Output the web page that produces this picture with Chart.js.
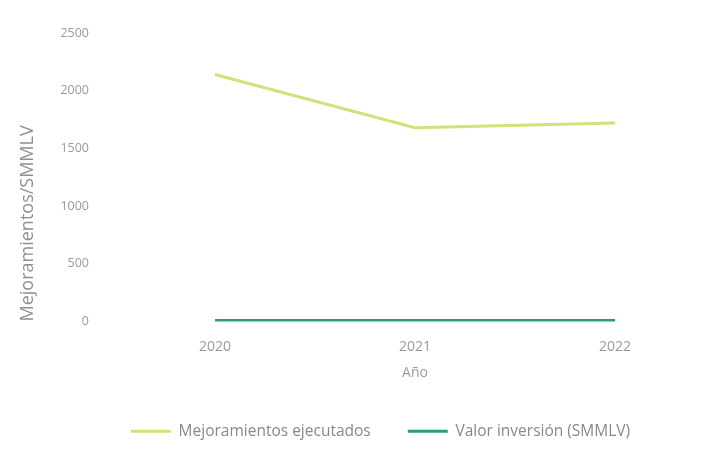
<!DOCTYPE html>
<html>
<head>
<meta charset="utf-8">
<script src="https://cdn.jsdelivr.net/npm/chart.js@4.4.0/dist/chart.umd.min.js"></script>
<style>
  html, body { margin: 0; padding: 0; background: #fff; }
  #graf { display: block; }
</style>
</head>
<body>
<canvas id="graf" width="718" height="451"></canvas>
<script>
var anios = ['2020', '2021', '2022'];
var mejoramientos = [2140, 1680, 1720];
var inversion = [8, 8, 8];
var ticksY = [0, 500, 1000, 1500, 2000, 2500];

var ctx = document.getElementById("graf").getContext("2d");
var graf = new Chart(ctx, {
    type: 'line',
    data: {
        labels: anios,
        datasets: [{
            label: 'Mejoramientos ejecutados',
            data: mejoramientos,
            borderColor: '#d0e27a',
            backgroundColor: '#d0e27a',
            borderWidth: 3,
            pointRadius: 0,
            tension: 0
        }, {
            label: 'Valor inversión (SMMLV)',
            data: inversion,
            borderColor: '#2e9c7c',
            backgroundColor: '#2e9c7c',
            borderWidth: 3,
            pointRadius: 0,
            tension: 0
        }]
    },
    options: {
        responsive: false,
        animation: false,
        // left padding a bit big so the legend sits centred like the original
        layout: { padding: { top: 33, right: 3, left: 46, bottom: 2 } },
        plugins: {
            legend: {
                position: 'bottom',
                labels: {
                    usePointStyle: true,
                    pointStyle: 'line',
                    pointStyleWidth: 40,
                    boxHeight: 3,
                    color: '#888',
                    padding: 37,
                    font: { family: 'Open Sans', size: 15.5 }
                }
            },
            tooltip: { enabled: false }
        },
        scales: {
            x: {
                offset: true,
                grid: { display: false },
                border: { display: false },
                ticks: { color: '#999', font: { family: 'Open Sans', size: 14 }, padding: 9 },
                title: { display: true, text: 'Año', color: '#999', font: { family: 'Open Sans', size: 14 }, padding: { top: 2, bottom: 5 } },
                afterFit: function(scale) { scale.height = 65; }
            },
            y: {
                min: 0,
                max: 2500,
                afterBuildTicks: function(scale) {
                    scale.ticks = ticksY.map(function(v) { return { value: v }; });
                },
                grid: { display: false },
                border: { display: false },
                ticks: {
                    color: '#999',
                    font: { family: 'Open Sans', size: 12.5 },
                    padding: 18,
                    callback: function(v) { return String(v); }
                },
                title: {
                    display: true,
                    text: 'Mejoramientos/SMMLV',
                    align: 'start',
                    color: '#8f8f8f',
                    font: { family: 'Open Sans', size: 18 },
                    padding: { top: -29 }
                },
                afterFit: function(scale) { scale.width = 69; }
            }
        }
    }
});
</script>
</body>
</html>
